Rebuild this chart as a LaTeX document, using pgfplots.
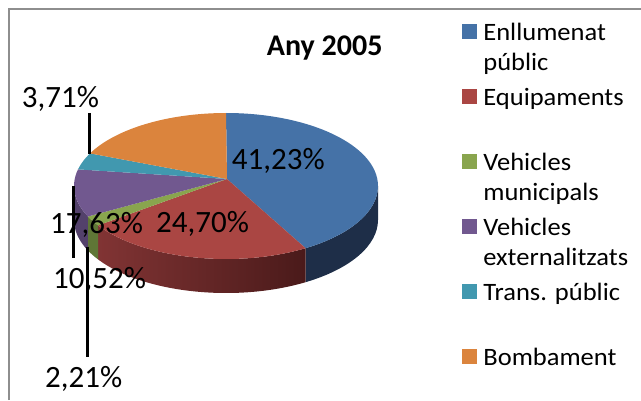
\documentclass[border=0pt]{standalone}
\usepackage{fontspec}
\setmainfont{Carlito}
\newfontfamily\legendfont{Carlito}[FakeStretch=1.06]
\usepackage{pgfplots}
\usepackage{pgfplotstable}
\pgfplotsset{compat=1.18}

\definecolor{cBlue}{HTML}{4572A7}
\definecolor{cRed}{HTML}{AA4643}
\definecolor{cGreen}{HTML}{89A54E}
\definecolor{cPurple}{HTML}{71588F}
\definecolor{cTeal}{HTML}{4198AF}
\definecolor{cOrange}{HTML}{DB843D}
\definecolor{sBlue}{HTML}{1E2E48}
\definecolor{sRedL}{HTML}{813434}
\definecolor{sRedR}{HTML}{4A1A1A}
\definecolor{sGreen}{HTML}{5F7636}
\definecolor{sPurple}{HTML}{53416B}
\definecolor{frame}{HTML}{8E8E8E}

\pgfplotstableread{
cat value
Enllumenat 41.23
Equipaments 24.70
VehMunicipals 2.21
VehExternalitzats 10.52
TransPublic 3.71
Bombament 17.63
}\piedata

\begin{document}
\begin{tikzpicture}
\pgfplotstablegetelem{0}{value}\of\piedata \pgfmathsetmacro\vA{\pgfplotsretval}
\pgfplotstablegetelem{1}{value}\of\piedata \pgfmathsetmacro\vB{\pgfplotsretval}
\pgfplotstablegetelem{2}{value}\of\piedata \pgfmathsetmacro\vC{\pgfplotsretval}
\pgfplotstablegetelem{3}{value}\of\piedata \pgfmathsetmacro\vD{\pgfplotsretval}
\pgfplotstablegetelem{4}{value}\of\piedata \pgfmathsetmacro\vE{\pgfplotsretval}
\pgfplotstablegetelem{5}{value}\of\piedata \pgfmathsetmacro\vF{\pgfplotsretval}
\pgfmathsetmacro\aA{90}
\pgfmathsetmacro\aB{\aA-3.6*\vA}
\pgfmathsetmacro\aC{\aB-3.6*\vB}
\pgfmathsetmacro\aD{\aC-3.6*\vC}
\pgfmathsetmacro\aE{\aD-3.6*\vD}
\pgfmathsetmacro\aF{\aE-3.6*\vE}
\pgfmathsetmacro\aG{\aF-3.6*\vF}
\def\cx{226}\def\cy{214}
\def\px{227}\def\py{221}
\def\R{152pt and 73pt}
\tikzset{rim/.style={x radius=152pt, y radius=73pt}}
\begin{axis}[
  at={(0,0)}, anchor=south west,
  x=1pt, y=1pt, scale only axis,
  xmin=0, xmax=641, ymin=0, ymax=400,
  hide axis, clip=false,
  legend style={at={(0.7207,0.9413)}, anchor=north west, draw=none, fill=none,
    inner sep=0pt, outer sep=0pt, row sep=41pt,
    nodes={font=\legendfont\fontsize{25}{30}\selectfont, text height=17pt, text depth=7pt, inner sep=0pt, anchor=base west},
    /tikz/every odd column/.append style={column sep=6.8pt}},
  legend cell align=left,
  legend image code/.code={\fill[#1,draw=none] (0pt,1.8pt) rectangle (14.6pt,16.5pt);},
]
\addplot[draw=none, forget plot] coordinates {(0,0) (641,400)};
\addlegendimage{fill=cBlue}
\addlegendentry{\begin{tabular}[t]{@{}l@{}}Enllumenat\\públic\end{tabular}}
\addlegendimage{fill=cRed}
\addlegendentry{Equipaments}
\addlegendimage{fill=cGreen}
\addlegendentry{\begin{tabular}[t]{@{}l@{}}Vehicles\\municipals\end{tabular}}
\addlegendimage{fill=cPurple}
\addlegendentry{\begin{tabular}[t]{@{}l@{}}Vehicles\\externalitzats\end{tabular}}
\addlegendimage{fill=cTeal}
\addlegendentry{Trans. públic}
\addlegendimage{fill=cOrange}
\addlegendentry{Bombament}

% frame
\draw[frame, line width=2pt] (axis cs:9,0) -- (axis cs:9,391) -- (axis cs:641,391);

% side walls (front half)
\fill[sBlue] (axis cs:\cx,\cy) ++(0:\R) arc[start angle=0, end angle=\aB, rim] -- ++(0,-34pt) arc[start angle=\aB, end angle=0, rim] -- cycle;
\shade[left color=sRedL, right color=sRedR] (axis cs:\cx,\cy) ++(\aB:\R) arc[start angle=\aB, end angle=\aC, rim] -- ++(0,-34pt) arc[start angle=\aC, end angle=\aB, rim] -- cycle;
\fill[sGreen] (axis cs:\cx,\cy) ++(\aC:\R) arc[start angle=\aC, end angle=\aD, rim] -- ++(0,-34pt) arc[start angle=\aD, end angle=\aC, rim] -- cycle;
\fill[sPurple] (axis cs:\cx,\cy) ++(\aD:\R) arc[start angle=\aD, end angle=-180, rim] -- ++(0,-34pt) arc[start angle=-180, end angle=\aD, rim] -- cycle;

% top faces
\fill[cBlue] (axis cs:\cx,\cy) ++(\aA:\R) arc[start angle=\aA, end angle=\aB, rim] -- (axis cs:\px,\py) -- cycle;
\fill[cRed] (axis cs:\cx,\cy) ++(\aB:\R) arc[start angle=\aB, end angle=\aC, rim] -- (axis cs:\px,\py) -- cycle;
\fill[cGreen] (axis cs:\cx,\cy) ++(\aC:\R) arc[start angle=\aC, end angle=\aD, rim] -- (axis cs:\px,\py) -- cycle;
\fill[cPurple] (axis cs:\cx,\cy) ++(\aD:\R) arc[start angle=\aD, end angle=\aE, rim] -- (axis cs:\px,\py) -- cycle;
\fill[cTeal] (axis cs:\cx,\cy) ++(\aE:\R) arc[start angle=\aE, end angle=\aF, rim] -- (axis cs:\px,\py) -- cycle;
\fill[cOrange] (axis cs:\cx,\cy) ++(\aF:\R) arc[start angle=\aF, end angle=\aG, rim] -- (axis cs:\px,\py) -- cycle;

% leader lines
\draw[line width=2.5pt] (axis cs:89.3,287) -- (axis cs:89.3,246);
\draw[line width=2.5pt] (axis cs:73.3,214) -- (axis cs:73.3,142);
\draw[line width=2.5pt] (axis cs:87.7,153) -- (axis cs:87.7,43);

% title and labels
\node[anchor=base west, inner sep=0pt, font=\fontsize{30}{36}\selectfont\bfseries] at (axis cs:266.7,344.3) {Any 2005};
\node[anchor=base west, inner sep=0pt, font=\fontsize{31}{37}\selectfont] at (axis cs:21.7,292.7) {3,71\%};
\node[anchor=base west, inner sep=0pt, font=\fontsize{31}{37}\selectfont] at (axis cs:231.7,230.7) {41,23\%};
\node[anchor=base west, inner sep=0pt, font=\fontsize{31}{37}\selectfont] at (axis cs:156,167.5) {24,70\%};
\node[anchor=base west, inner sep=0pt, font=\fontsize{31}{37}\selectfont] at (axis cs:50,166.5) {17,63\%};
\node[anchor=base west, inner sep=0pt, font=\fontsize{31}{37}\selectfont] at (axis cs:53,111.8) {10,52\%};
\node[anchor=base west, inner sep=0pt, font=\fontsize{31}{37}\selectfont] at (axis cs:45,12.7) {2,21\%};

\coordinate (BL) at (axis cs:0,0);
\coordinate (TR) at (axis cs:641,400);
\end{axis}
\pgfresetboundingbox
\path[use as bounding box] (BL) rectangle (TR);
\end{tikzpicture}
\end{document}
